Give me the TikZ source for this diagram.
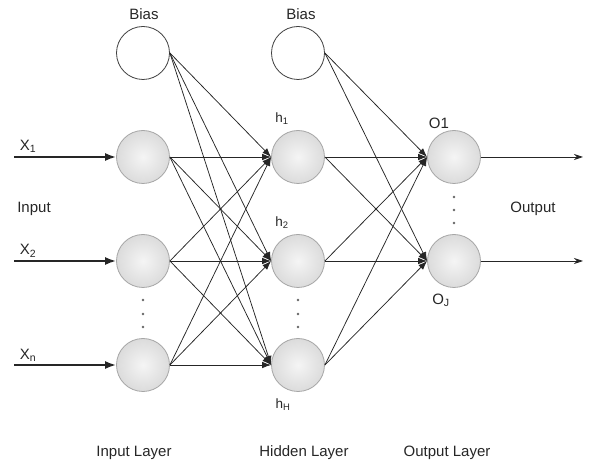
\documentclass[tikz,border=0pt]{standalone}
\usepackage{fontspec}
\setmainfont{Liberation Sans}
\usepackage{tikz}
\usetikzlibrary{arrows.meta, positioning}

\begin{document}
\begin{tikzpicture}[
x=1pt, y=-1pt,
node distance=104pt,
neuron/.style={circle, draw=gray!70, thick, inner color=gray!8, outer color=gray!28, minimum size=53pt},
bias/.style={circle, draw=black!75, thick, fill=white, minimum size=53pt},
lbl/.style={text=black!85, font=\fontsize{15}{17}\selectfont},
sublbl/.style={text=black!85, font=\fontsize{13.5}{15}\selectfont},
link/.style={-{Latex[length=9pt,width=6.5pt]}, black!85, line width=0.75pt},
inarrow/.style={-{Latex[length=11pt,width=8pt]}, black!85, line width=2pt},
outarrow/.style={-{Stealth[length=9pt,width=6pt]}, black!85, line width=0.8pt},
dot/.style={circle, fill=black!60, inner sep=0pt, minimum size=2.8pt}
]
\useasboundingbox (0,0) rectangle (595,462);

% input layer
\node[neuron] (in1) at (143,157) {};
\node[neuron, below of=in1] (in2) {};
\node[neuron, below of=in2] (in3) {};
\node[bias, above of=in1] (bias1) {};

% hidden layer
\node[neuron] (h1) at (298,157) {};
\node[neuron, below of=h1] (h2) {};
\node[neuron, below of=h2] (h3) {};
\node[bias, above of=h1] (bias2) {};

% output layer
\node[neuron] (o1) at (454,157) {};
\node[neuron, below of=o1] (o2) {};

% text
\node[lbl] (tbias1) at (144,14) {Bias};
\node[lbl] (tbias2) at (301,14) {Bias};
\node[lbl] (tx1) at (28,146) {X\textsubscript{1}};
\node[lbl] (tx2) at (28,251) {X\textsubscript{2}};
\node[lbl] (txn) at (28,355) {X\textsubscript{n}};
\node[lbl] (tinput) at (34,209) {Input};
\node[lbl] (toutput) at (533,209) {Output};
\node[sublbl] (th1) at (282,119) {h\textsubscript{1}};
\node[sublbl] (th2) at (282,223) {h\textsubscript{2}};
\node[sublbl] (th3) at (283,405) {h\textsubscript{H}};
\node[lbl] (to1) at (439,123) {O1};
\node[lbl] (to2) at (441,300) {O\textsubscript{J}};
\node[lbl] (tinlayer) at (134,453) {Input Layer};
\node[lbl] (thidlayer) at (304,453) {Hidden Layer};
\node[lbl] (toutlayer) at (447,453) {Output Layer};

% dots
\node[dot] (d1) at (143,300) {};
\node[dot] (d2) at (143,314) {};
\node[dot] (d3) at (143,327) {};
\node[dot] (d4) at (298,300) {};
\node[dot] (d5) at (298,314) {};
\node[dot] (d6) at (298,327) {};
\node[dot] (d7) at (454,197) {};
\node[dot] (d8) at (454,210) {};
\node[dot] (d9) at (454,223) {};

% inputs and outputs
\coordinate (x1) at (14,157);
\coordinate (x2) at (14,261);
\coordinate (xn) at (14,365);
\coordinate (y1) at (583,157);
\coordinate (y2) at (583,261);
\draw[inarrow] (x1) -- (in1);
\draw[inarrow] (x2) -- (in2);
\draw[inarrow] (xn) -- (in3);
\draw[outarrow] (o1) -- (y1);
\draw[outarrow] (o2) -- (y2);

% input to hidden
\draw[link] (bias1.east) -- (h1.west);
\draw[link] (bias1.east) -- (h2.west);
\draw[link] (bias1.east) -- (h3.west);
\draw[link] (in1.east) -- (h1.west);
\draw[link] (in1.east) -- (h2.west);
\draw[link] (in1.east) -- (h3.west);
\draw[link] (in2.east) -- (h1.west);
\draw[link] (in2.east) -- (h2.west);
\draw[link] (in2.east) -- (h3.west);
\draw[link] (in3.east) -- (h1.west);
\draw[link] (in3.east) -- (h2.west);
\draw[link] (in3.east) -- (h3.west);

% hidden to output
\draw[link] (bias2.east) -- (o1.west);
\draw[link] (bias2.east) -- (o2.west);
\draw[link] (h1.east) -- (o1.west);
\draw[link] (h1.east) -- (o2.west);
\draw[link] (h2.east) -- (o1.west);
\draw[link] (h2.east) -- (o2.west);
\draw[link] (h3.east) -- (o1.west);
\draw[link] (h3.east) -- (o2.west);

\end{tikzpicture}
\end{document}
